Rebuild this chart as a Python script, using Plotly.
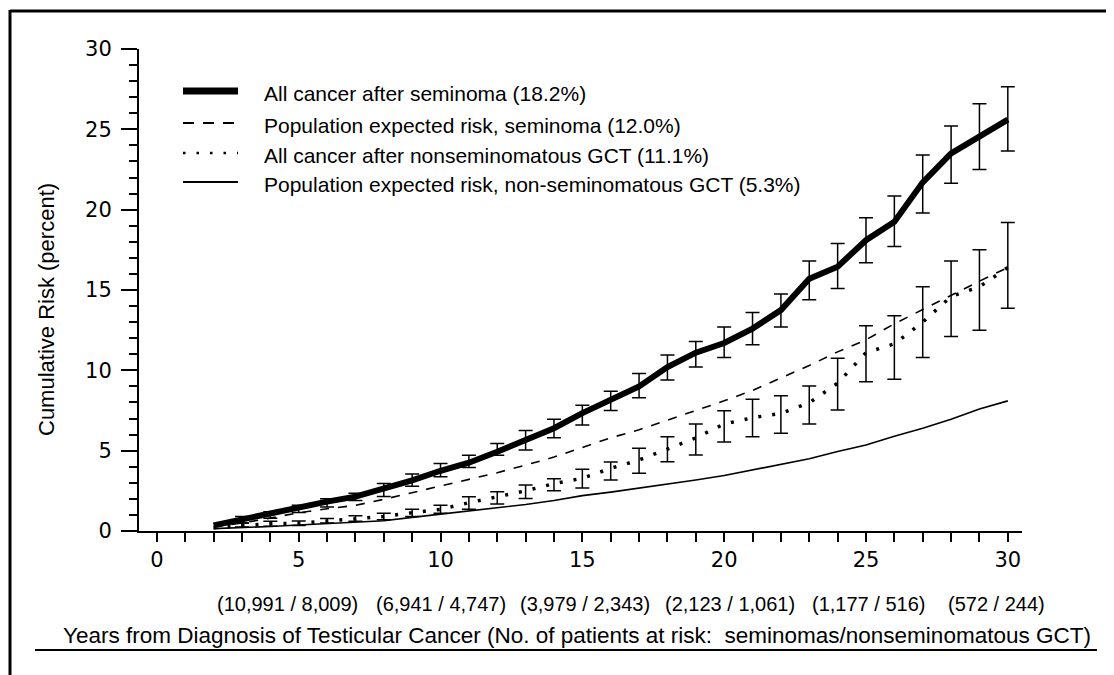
import plotly.graph_objects as go

# ---------------- data ----------------
years = list(range(2, 31))

sem_obs = [0.35, 0.73, 1.06, 1.45, 1.83, 2.14, 2.6, 3.15, 3.75, 4.25, 4.93, 5.66, 6.4, 7.34,
           8.15, 9.0, 10.2, 11.1, 11.7, 12.6, 13.75, 15.7, 16.45, 18.1, 19.25, 21.7, 23.5, 24.5, 25.6]
sem_hi = [0.45, 0.9, 1.2, 1.6, 2.0, 2.35, 2.95, 3.55, 4.2, 4.72, 5.45, 6.25, 6.95, 7.82,
          8.7, 9.8, 10.95, 11.8, 12.7, 13.6, 14.75, 16.8, 17.9, 19.5, 20.85, 23.4, 25.2, 26.6, 27.65]
sem_lo = [0.25, 0.5, 0.8, 1.15, 1.5, 1.9, 2.15, 2.78, 3.38, 3.96, 4.72, 5.04, 5.8, 6.6,
          7.5, 8.3, 9.4, 10.2, 10.8, 11.6, 12.7, 14.4, 15.1, 16.7, 17.7, 19.8, 21.65, 22.5, 23.65]

sem_exp = [0.25, 0.5, 0.8, 1.14, 1.38, 1.6, 1.97, 2.38, 2.8, 3.2, 3.63, 4.1, 4.6, 5.2,
           5.8, 6.3, 6.9, 7.5, 8.1, 8.75, 9.5, 10.3, 11.15, 11.9, 12.9, 13.8, 14.7, 15.55, 16.4]

nsem_obs = [0.2, 0.35, 0.45, 0.48, 0.62, 0.78, 0.9, 1.14, 1.35, 1.76, 2.13, 2.5, 2.95, 3.28,
            3.9, 4.42, 5.1, 5.8, 6.66, 7.05, 7.32, 7.98, 9.2, 11.1, 11.65, 13.0, 14.6, 15.2, 16.4]
nsem_hi = [0.25, 0.5, 0.6, 0.62, 0.78, 0.95, 1.1, 1.35, 1.6, 2.13, 2.45, 2.86, 3.25, 3.85,
           4.3, 5.15, 5.87, 6.66, 7.49, 8.2, 8.42, 9.02, 10.75, 12.78, 13.4, 15.2, 16.8, 17.5, 19.2]
nsem_lo = [0.15, 0.25, 0.3, 0.35, 0.5, 0.6, 0.7, 0.9, 1.1, 1.35, 1.68, 2.03, 2.5, 2.67,
           3.17, 3.6, 4.31, 4.73, 5.54, 5.87, 6.08, 6.66, 7.53, 9.29, 9.44, 10.8, 12.1, 12.5, 13.86]

nsem_exp = [0.15, 0.2, 0.28, 0.37, 0.45, 0.55, 0.64, 0.85, 1.05, 1.25, 1.41, 1.65, 1.9, 2.2,
            2.42, 2.66, 2.9, 3.17, 3.45, 3.8, 4.15, 4.5, 4.95, 5.35, 5.9, 6.4, 6.95, 7.6, 8.1]

legend_labels = [
    "All cancer after seminoma (18.2%)",
    "Population expected risk, seminoma (12.0%)",
    "All cancer after nonseminomatous GCT (11.1%)",
    "Population expected risk, non-seminomatous GCT (5.3%)",
]

risk_labels = ["(10,991 / 8,009)", "(6,941 / 4,747)", "(3,979 / 2,343)",
               "(2,123 / 1,061)", "(1,177 / 516)", "(572 / 244)"]
risk_label_x = [4.6, 10.0, 15.1, 20.2, 25.1, 29.6]

x_title = "Years from Diagnosis of Testicular Cancer (No. of patients at risk:  seminomas/nonseminomatous GCT)"
y_title = "Cumulative Risk (percent)"

# ---------------- layout geometry ----------------
# the page body has an 8px margin, so the figure is 8px smaller and shifted
OFF = 8
W, H = 1114 - OFF, 675 - OFF
PLOT_L, PLOT_R, PLOT_T, PLOT_B = 139, 1022, 49, 531   # plot box in window pixels
PW, PH = PLOT_R - PLOT_L, PLOT_B - PLOT_T
L, T = PLOT_L - OFF, PLOT_T - OFF
R, B = W - L - PW, H - T - PH


def px(xp):
    return (xp - PLOT_L) / PW


def py(yp):
    return (PLOT_B - yp) / PH


FONT = "Liberation Sans, Arial, sans-serif"
TICKFONT = "DejaVu Sans, Liberation Sans, sans-serif"

fig = go.Figure()

eb_from = 1  # error bars start at year 3


def err(vals, hi, lo):
    up = [h - v for h, v in zip(hi, vals)]
    dn = [v - l for l, v in zip(lo, vals)]
    return up, dn


su, sd = err(sem_obs, sem_hi, sem_lo)
fig.add_trace(go.Scatter(x=years[eb_from:], y=sem_obs[eb_from:], mode="markers",
                         marker=dict(size=1, color="rgba(0,0,0,0)"),
                         error_y=dict(type="data", symmetric=False, array=su[eb_from:],
                                      arrayminus=sd[eb_from:], color="black",
                                      thickness=1.5, width=7),
                         showlegend=False, hoverinfo="skip"))
nu, nd = err(nsem_obs, nsem_hi, nsem_lo)
fig.add_trace(go.Scatter(x=years[eb_from:], y=nsem_obs[eb_from:], mode="markers",
                         marker=dict(size=1, color="rgba(0,0,0,0)"),
                         error_y=dict(type="data", symmetric=False, array=nu[eb_from:],
                                      arrayminus=nd[eb_from:], color="black",
                                      thickness=1.5, width=7),
                         showlegend=False, hoverinfo="skip"))

fig.add_trace(go.Scatter(x=years, y=nsem_exp, mode="lines",
                         line=dict(color="black", width=1.6), showlegend=False))
fig.add_trace(go.Scatter(x=years, y=sem_exp, mode="lines",
                         line=dict(color="black", width=1.6, dash="9px,9px"), showlegend=False))
fig.add_trace(go.Scatter(x=years, y=nsem_obs, mode="lines",
                         line=dict(color="black", width=3.5, dash="3px,11px"), showlegend=False))
fig.add_trace(go.Scatter(x=years, y=sem_obs, mode="lines",
                         line=dict(color="black", width=6), showlegend=False))

shapes = []
annotations = []

# legend
leg_rows = [91, 123, 153, 182]
leg_styles = [dict(width=7), dict(width=2, dash="11px,9px"),
              dict(width=2.5, dash="2.5px,11px"), dict(width=2)]
for yrow, st, lab in zip(leg_rows, leg_styles, legend_labels):
    shapes.append(dict(type="line", xref="paper", yref="paper",
                       x0=px(183), x1=px(238), y0=py(yrow), y1=py(yrow),
                       line=dict(color="black", **st)))
    annotations.append(dict(xref="paper", yref="paper", x=px(262), y=py(yrow + 2),
                            text=lab, showarrow=False, xanchor="left", yanchor="middle",
                            font=dict(family=FONT, size=21, color="black")))

# at-risk labels
for xv, lab in zip(risk_label_x, risk_labels):
    annotations.append(dict(xref="x", yref="paper", x=xv, y=py(604), text=lab,
                            showarrow=False, xanchor="center", yanchor="middle",
                            font=dict(family=FONT, size=20, color="black")))

# axis titles
annotations.append(dict(xref="paper", yref="paper", x=px(577), y=py(635), text=x_title,
                        showarrow=False, xanchor="center", yanchor="middle",
                        font=dict(family=FONT, size=22.5, color="black")))
annotations.append(dict(xref="paper", yref="paper", x=px(46), y=py(310), text=y_title,
                        showarrow=False, xanchor="center", yanchor="middle", textangle=-90,
                        font=dict(family=FONT, size=22, color="black")))

# underline of x title and frame
shapes.append(dict(type="line", xref="paper", yref="paper", x0=px(35), x1=px(1097),
                   y0=py(650), y1=py(650), line=dict(color="black", width=2)))
shapes.append(dict(type="line", xref="paper", yref="paper", x0=px(10), x1=px(1114),
                   y0=py(11), y1=py(11), line=dict(color="black", width=3)))
shapes.append(dict(type="line", xref="paper", yref="paper", x0=px(10), x1=px(10),
                   y0=py(10), y1=py(675), line=dict(color="black", width=3)))

fig.update_layout(
    width=W, height=H,
    margin=dict(l=L, r=R, t=T, b=B, pad=0),
    paper_bgcolor="white", plot_bgcolor="white",
    showlegend=False,
    shapes=shapes, annotations=annotations,
    xaxis=dict(range=[-0.63, 30.5], showgrid=False, zeroline=False,
               showline=True, linecolor="black", linewidth=2,
               tickmode="linear", tick0=0, dtick=5,
               ticks="outside", ticklen=9, tickwidth=1.5, tickcolor="black",
               minor=dict(dtick=1, tick0=0, ticks="outside", ticklen=9, tickwidth=1.5,
                          tickcolor="black", showgrid=False),
               tickfont=dict(family=TICKFONT, size=21, color="black"),
               ticklabelstandoff=0),
    yaxis=dict(range=[0, 30], showgrid=False, zeroline=False,
               showline=True, linecolor="black", linewidth=2,
               tickmode="linear", tick0=0, dtick=5,
               ticks="outside", ticklen=16, tickwidth=1.5, tickcolor="black",
               minor=dict(dtick=1, tick0=0, ticks="outside", ticklen=8, tickwidth=1.5,
                          tickcolor="black", showgrid=False),
               tickfont=dict(family=TICKFONT, size=21, color="black"),
               ticklabelstandoff=5),
)

fig.write_html("out.html")
